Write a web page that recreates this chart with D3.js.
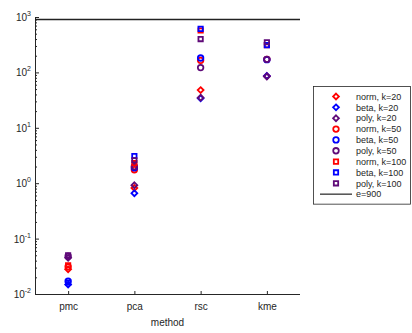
<!DOCTYPE html>
<html>
<head>
<meta charset="utf-8">
<script src="https://cdn.jsdelivr.net/npm/d3@7"></script>
<style>
  html, body { margin: 0; padding: 0; background: #fff; }
  svg { display: block; font-family: "Liberation Sans", Arial, Helvetica, sans-serif; }
</style>
</head>
<body>
<svg id="chart" width="412" height="333"></svg>
<script>
// Methods on the x axis
const categories = ["pmc", "pca", "rsc", "kme"];

// Values per method, one array per distribution and k
const norm20  = [0.028, 0.82, 48, 86];
const beta20  = [0.0148, 0.66, 34, 86];
const poly20  = [0.045, 0.92, 35, 84];
const norm50  = [0.031, 1.75, 165, 172];
const beta50  = [0.017, 1.9, 182, 170];
const poly50  = [0.048, 2.0, 122, 172];
const norm100 = [0.033, 2.3, 570, 310];
const beta100 = [0.016, 3.1, 610, 310];
const poly100 = [0.05, 2.6, 400, 350];

// Reference level
const eLevel = 900;
const eLabel = "e=900";

// Y tick labels (powers of ten)
const yTickExponents = [-2, -1, 0, 1, 2, 3];

const colors = { norm: "#ff0000", beta: "#0000ff", poly: "#5f0a78" };

// Custom diamond: a square rotated by 45 degrees
const diamond = {
  draw(ctx, size) {
    const r = Math.sqrt(size) / 2 * 1.3;
    ctx.moveTo(0, -r);
    ctx.lineTo(r, 0);
    ctx.lineTo(0, r);
    ctx.lineTo(-r, 0);
    ctx.closePath();
  }
};
const shapes = { 20: { type: diamond, size: 20 }, 50: { type: d3.symbolCircle, size: 24 }, 100: { type: d3.symbolSquare, size: 19 } };

const series = [
  { name: "norm, k=20", dist: "norm", k: 20, values: norm20 },
  { name: "beta, k=20", dist: "beta", k: 20, values: beta20 },
  { name: "poly, k=20", dist: "poly", k: 20, values: poly20 },
  { name: "norm, k=50", dist: "norm", k: 50, values: norm50 },
  { name: "beta, k=50", dist: "beta", k: 50, values: beta50 },
  { name: "poly, k=50", dist: "poly", k: 50, values: poly50 },
  { name: "norm, k=100", dist: "norm", k: 100, values: norm100 },
  { name: "beta, k=100", dist: "beta", k: 100, values: beta100 },
  { name: "poly, k=100", dist: "poly", k: 100, values: poly100 }
];

const svg = d3.select("#chart");
const plot = { left: 35, right: 300, top: 17, bottom: 294 };
const axisColor = "#262626";
const markStroke = 1.8;

const x = d3.scalePoint().domain(categories).range([plot.left, plot.right]).padding(0.5);
const y = d3.scaleLog().domain([0.01, 1000]).range([plot.bottom, plot.top]);

// Minor ticks (2..9 within each decade)
const minorTicks = [];
for (let e = -2; e < 3; e++) for (let m = 2; m <= 9; m++) minorTicks.push(m * Math.pow(10, e));
const majorTicks = yTickExponents.map(e => Math.pow(10, e));

const yAxisMinor = svg.append("g").attr("transform", `translate(${plot.left},0)`)
  .call(d3.axisLeft(y).tickValues(minorTicks).tickSize(-2).tickFormat(""));
const yAxisMajor = svg.append("g").attr("transform", `translate(${plot.left},0)`)
  .call(d3.axisLeft(y).tickValues(majorTicks).tickSize(-4).tickFormat(""));
[yAxisMinor, yAxisMajor].forEach(g => {
  g.selectAll("path, line").attr("stroke", axisColor).attr("stroke-width", 1);
});

// Y tick labels with superscript exponents
const yLabels = svg.append("g");
yTickExponents.forEach(e => {
  const t = yLabels.append("text")
    .attr("x", plot.left - 4)
    .attr("y", y(Math.pow(10, e)) + 4)
    .attr("text-anchor", "end")
    .attr("fill", axisColor)
    .attr("font-size", 10);
  t.append("tspan").text("10");
  t.append("tspan").attr("dy", -5).attr("font-size", 7).text(e);
});

const xAxis = svg.append("g").attr("transform", `translate(0,${plot.bottom})`)
  .call(d3.axisBottom(x).tickSize(-3).tickSizeOuter(0));
xAxis.select(".domain").attr("d", `M${plot.left},0.5H${plot.right}`);
xAxis.selectAll("path, line").attr("stroke", axisColor);
xAxis.selectAll("text").attr("fill", axisColor).attr("font-size", 10)
  .attr("font-family", "Liberation Sans, Arial, sans-serif").attr("y", 9);

svg.append("text")
  .attr("x", (plot.left + plot.right) / 2)
  .attr("y", 326)
  .attr("text-anchor", "middle")
  .attr("fill", axisColor)
  .attr("font-size", 10)
  .text("method");

// Reference line
svg.append("line")
  .attr("x1", plot.left).attr("x2", plot.right)
  .attr("y1", y(eLevel)).attr("y2", y(eLevel))
  .attr("stroke", "#222").attr("stroke-width", 1.5);

// Markers
const marks = svg.append("g");
series.forEach(s => {
  const sym = d3.symbol().type(shapes[s.k].type).size(shapes[s.k].size);
  marks.selectAll(null)
    .data(s.values.map((v, i) => ({ c: categories[i], v })))
    .join("path")
    .attr("d", sym)
    .attr("transform", d => `translate(${x(d.c)},${y(d.v)})`)
    .attr("fill", "none")
    .attr("stroke", colors[s.dist])
    .attr("stroke-width", markStroke);
});

// Legend
const leg = { x: 313, y: 86, w: 98, row: 10.85, pad: 10.5 };
const legend = svg.append("g");
const nRows = series.length + 1;
legend.append("rect")
  .attr("x", leg.x + 0.5).attr("y", leg.y + 0.5)
  .attr("width", leg.w - 1).attr("height", (nRows - 1) * leg.row + 2 * leg.pad - 1)
  .attr("fill", "#fff").attr("stroke", axisColor).attr("stroke-width", 0.8);
series.forEach((s, i) => {
  const cy = leg.y + leg.pad + i * leg.row;
  legend.append("path")
    .attr("d", d3.symbol().type(shapes[s.k].type).size(shapes[s.k].size)())
    .attr("transform", `translate(${leg.x + 23},${cy})`)
    .attr("fill", "none").attr("stroke", colors[s.dist]).attr("stroke-width", markStroke);
  legend.append("text")
    .attr("x", leg.x + 43).attr("y", cy + 3.2)
    .attr("font-size", 9).attr("fill", axisColor)
    .text(s.name);
});
{
  const cy = leg.y + leg.pad + series.length * leg.row;
  legend.append("line")
    .attr("x1", leg.x + 7).attr("x2", leg.x + 39)
    .attr("y1", cy).attr("y2", cy)
    .attr("stroke", "#222").attr("stroke-width", 1.2);
  legend.append("text")
    .attr("x", leg.x + 43).attr("y", cy + 3.2)
    .attr("font-size", 9).attr("fill", axisColor)
    .text(eLabel);
}
</script>
</body>
</html>
